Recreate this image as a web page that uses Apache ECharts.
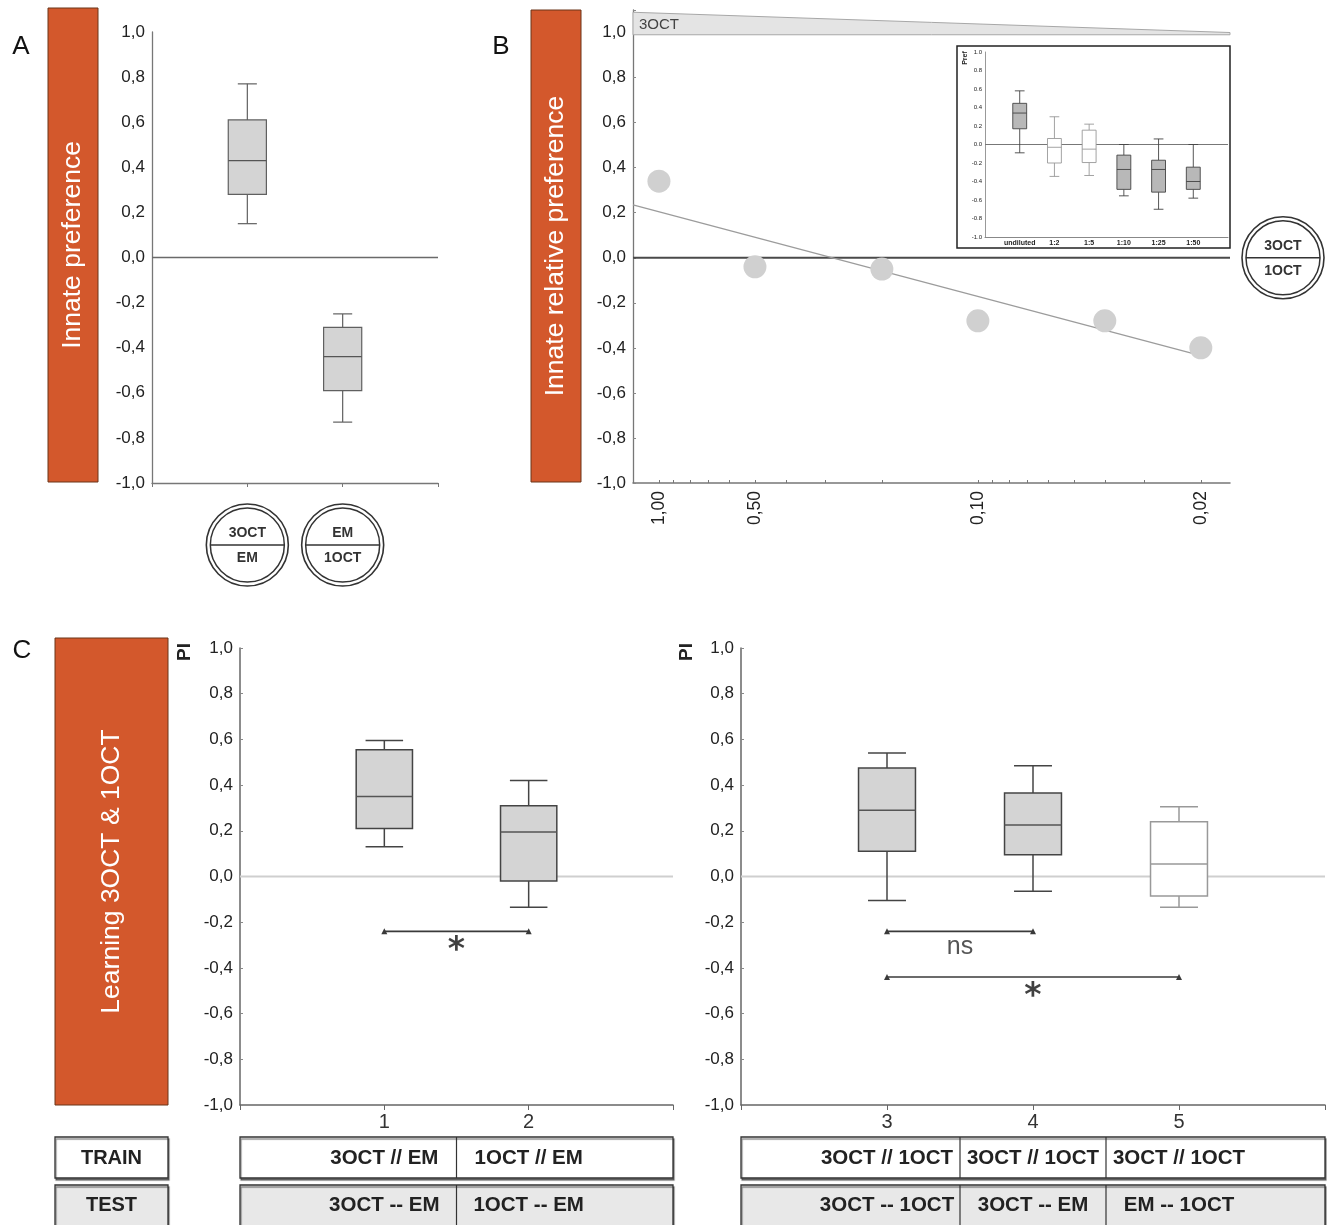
<!DOCTYPE html>
<html>
<head>
<meta charset="utf-8">
<script src="https://cdn.jsdelivr.net/npm/echarts@6/dist/echarts.min.js"></script>
<style>
html,body{margin:0;padding:0;background:#ffffff;}
#c{width:1327px;height:1225px;}
</style>
</head>
<body>
<div id="c"></div>
<script>
// ---------------- DATA ----------------
// Panel A: innate preference, boxes [low whisker, q1, median, q3, high whisker]
const aGroupX = [1, 2];
const aGroupTop = ['3OCT', 'EM'];
const aGroupBottom = ['EM', '1OCT'];
const aBoxes = [
  [0.15, 0.28, 0.43, 0.61, 0.77],
  [-0.73, -0.59, -0.44, -0.31, -0.25]
];
// Panel B: innate relative preference vs concentration (log axis)
const bConc = [1.00, 0.50, 0.20, 0.10, 0.04, 0.02];
const bPref = [0.34, -0.04, -0.05, -0.28, -0.28, -0.40];
const bTrend = [[1.206, 0.235], [0.02, -0.435]];
const bTickLabels = [1.00, 0.50, 0.10, 0.02];
const bTickMarks = [1, 0.9, 0.8, 0.7, 0.6, 0.5, 0.4, 0.3, 0.2, 0.1, 0.09, 0.08, 0.07, 0.06, 0.05, 0.04, 0.03, 0.02];
const bRange = [0.0162, 1.206];
// Inset of panel B
const insetCats = ['undiluted', '1:2', '1:5', '1:10', '1:25', '1:50'];
const insetX = [1, 2, 3, 4, 5, 6];
const insetBoxes = [
  [-0.09, 0.17, 0.34, 0.445, 0.58],
  [-0.345, -0.20, -0.03, 0.065, 0.30],
  [-0.335, -0.195, -0.05, 0.155, 0.22],
  [-0.555, -0.485, -0.27, -0.115, 0.0],
  [-0.70, -0.515, -0.27, -0.17, 0.06],
  [-0.58, -0.485, -0.40, -0.245, 0.0]
];
const insetOpen = [false, true, true, false, false, false];
// Panel C: learning
const cLeftX = [1, 2];
const cLeftBoxes = [
  [0.13, 0.21, 0.35, 0.555, 0.595],
  [-0.135, -0.02, 0.195, 0.31, 0.42]
];
const cRightX = [3, 4, 5];
const cRightBoxes = [
  [-0.105, 0.11, 0.29, 0.475, 0.54],
  [-0.065, 0.095, 0.225, 0.365, 0.485],
  [-0.135, -0.085, 0.055, 0.24, 0.305]
];
const cRightOpen = [false, false, true];
// significance brackets: [from, to, y, label]
const cLeftSig = [[1, 2, -0.24, '*']];
const cRightSig = [[3, 4, -0.24, 'ns'], [3, 5, -0.44, '*']];
// table labels
const trainLeft = ['3OCT // EM', '1OCT // EM'];
const testLeft = ['3OCT -- EM', '1OCT -- EM'];
const trainRight = ['3OCT // 1OCT', '3OCT // 1OCT', '3OCT // 1OCT'];
const testRight = ['3OCT -- 1OCT', '3OCT -- EM', 'EM -- 1OCT'];

// ---------------- HELPERS ----------------
const FONT = "'Liberation Sans', Arial, Helvetica, sans-serif";
function fmtComma(v) {
  if (Math.abs(v) < 1e-9) return '0,0';
  return v.toFixed(1).replace('.', ',');
}
function fmtDot(v) {
  if (Math.abs(v) < 1e-9) return '0.0';
  return v.toFixed(1);
}
function boxSeries(g, xs, boxes, o) {
  return {
    type: 'custom', xAxisIndex: g, yAxisIndex: g, z: 5, silent: true, animation: false,
    data: xs.map(function (x, i) { return [x].concat(boxes[i]); }),
    encode: { x: 0, y: [1, 2, 3, 4, 5] },
    renderItem: function (params, api) {
      const x = api.value(0);
      const p = [1, 2, 3, 4, 5].map(function (k) { return api.coord([x, api.value(k)]); });
      const cx = p[0][0];
      const w = api.size([o.width, 0])[0];
      const cw = api.size([o.cap, 0])[0];
      const open = o.open ? o.open[params.dataIndex] : false;
      const stroke = open ? o.openStroke : o.stroke;
      const fill = open ? '#ffffff' : o.fill;
      const lo = p[0][1], q1 = p[1][1], md = p[2][1], q3 = p[3][1], hi = p[4][1];
      const ls = { stroke: stroke, lineWidth: o.lw, fill: null };
      return {
        type: 'group', children: [
          { type: 'line', shape: { x1: cx, y1: hi, x2: cx, y2: q3 }, style: ls },
          { type: 'line', shape: { x1: cx, y1: q1, x2: cx, y2: lo }, style: ls },
          { type: 'line', shape: { x1: cx - cw / 2, y1: hi, x2: cx + cw / 2, y2: hi }, style: ls },
          { type: 'line', shape: { x1: cx - cw / 2, y1: lo, x2: cx + cw / 2, y2: lo }, style: ls },
          { type: 'rect', shape: { x: cx - w / 2, y: q3, width: w, height: q1 - q3 }, style: { fill: fill, stroke: stroke, lineWidth: o.lw } },
          { type: 'line', shape: { x1: cx - w / 2, y1: md, x2: cx + w / 2, y2: md }, style: { stroke: open ? o.openStroke : (o.medianStroke || stroke), lineWidth: o.mlw || o.lw } }
        ]
      };
    }
  };
}
function hLine(g, x0, x1, y, color, width, z) {
  return {
    type: 'line', xAxisIndex: g, yAxisIndex: g, z: z || 2, silent: true, animation: false,
    data: [[x0, y], [x1, y]], symbol: 'none',
    lineStyle: { color: color, width: width }
  };
}
function sigSeries(g, sigs) {
  const out = [];
  sigs.forEach(function (s) {
    const star = s[3] === '*';
    out.push({
      type: 'line', xAxisIndex: g, yAxisIndex: g, z: 6, silent: true, animation: false,
      data: [[s[0], s[2]], [s[1], s[2]]],
      symbol: 'triangle', symbolSize: [6, 6], showSymbol: true,
      lineStyle: { color: '#3a3a3a', width: 1.6 }, itemStyle: { color: '#3a3a3a' }
    });
    out.push({
      type: 'scatter', xAxisIndex: g, yAxisIndex: g, z: 6, silent: true, animation: false,
      data: [[(s[0] + s[1]) / 2, s[2], s[3]]],
      symbolSize: 1, itemStyle: { color: 'rgba(0,0,0,0)' },
      label: {
        show: true, position: 'inside',
        offset: star ? [0, 20] : [0, 16],
        formatter: function (p) { return p.value[2]; },
        fontFamily: star ? "'DejaVu Sans', sans-serif" : FONT,
        fontWeight: star ? 'bold' : 'normal',
        fontSize: star ? 33 : 25, color: star ? '#111' : '#2a2a2a'
      }
    });
  });
  return out;
}
function yAxisStd(g, o) {
  return Object.assign({
    gridIndex: g, type: 'value', min: -1, max: 1, interval: 0.2,
    axisLine: { show: true, onZero: false, lineStyle: { color: '#777', width: 1.3 } },
    axisTick: { show: true, inside: true, length: 3, lineStyle: { color: '#888' } },
    splitLine: { show: false },
    axisLabel: { formatter: fmtComma, fontFamily: FONT, fontSize: 17, color: '#222', margin: 7 }
  }, o || {});
}

// ---------------- CHART ----------------
const chart = echarts.init(document.getElementById('c'), null, { renderer: 'canvas' });

const grids = [
  { left: 152, top: 32, width: 286, height: 451, outerBoundsMode: 'none' },
  { left: 633, top: 10, width: 597, height: 473, outerBoundsMode: 'none' },
  { left: 985, top: 52, width: 243, height: 185, outerBoundsMode: 'none' },
  { left: 240, top: 648, width: 433, height: 457, outerBoundsMode: 'none' },
  { left: 741, top: 648, width: 584, height: 457, outerBoundsMode: 'none' }
];

const xAxes = [
  {
    gridIndex: 0, type: 'value', min: 0, max: 3, interval: 1,
    axisLine: { onZero: false, lineStyle: { color: '#777', width: 1.3 } },
    axisTick: { show: true, length: 4, lineStyle: { color: '#777' } },
    axisLabel: { show: false }, splitLine: { show: false }
  },
  {
    gridIndex: 1, type: 'log', logBase: 10, min: bRange[0], max: bRange[1], inverse: true,
    axisLine: { onZero: false, lineStyle: { color: '#777', width: 1.5 } },
    axisTick: { show: true, inside: true, length: 3, customValues: bTickMarks, lineStyle: { color: '#777' } },
    axisLabel: {
      show: true, customValues: bTickLabels, rotate: 90, margin: 8,
      formatter: function (v) { return Number(v).toFixed(2).replace('.', ','); },
      fontFamily: FONT, fontSize: 17.5, color: '#222'
    },
    splitLine: { show: false }, minorTick: { show: false }
  },
  {
    gridIndex: 2, type: 'value', min: 0, max: 7, interval: 1,
    axisLine: { onZero: false, lineStyle: { color: '#888', width: 1 } },
    axisTick: { show: false },
    axisLabel: {
      formatter: function (v) { return insetCats[insetX.indexOf(v)] || ''; },
      fontFamily: FONT, fontSize: 7, fontWeight: 'bold', color: '#222', margin: 3
    },
    splitLine: { show: false }
  },
  {
    gridIndex: 3, type: 'value', min: 0, max: 3, interval: 1,
    axisLine: { onZero: false, lineStyle: { color: '#666', width: 1.5 } },
    axisTick: { show: true, length: 5, lineStyle: { color: '#666' } },
    axisLabel: {
      formatter: function (v) { return cLeftX.indexOf(v) >= 0 ? String(v) : ''; },
      fontFamily: FONT, fontSize: 20, color: '#333', margin: 7
    },
    splitLine: { show: false }
  },
  {
    gridIndex: 4, type: 'value', min: 2, max: 6, interval: 1,
    axisLine: { onZero: false, lineStyle: { color: '#666', width: 1.5 } },
    axisTick: { show: true, length: 5, lineStyle: { color: '#666' } },
    axisLabel: {
      formatter: function (v) { return cRightX.indexOf(v) >= 0 ? String(v) : ''; },
      fontFamily: FONT, fontSize: 20, color: '#333', margin: 7
    },
    splitLine: { show: false }
  }
];

const yAxes = [
  yAxisStd(0, { axisTick: { show: false } }),
  yAxisStd(1, {
    max: 1.1,
    axisLabel: {
      formatter: function (v) { return v > 1.05 ? '' : fmtComma(v); },
      fontFamily: FONT, fontSize: 17, color: '#222', margin: 7
    }
  }),
  yAxisStd(2, {
    axisLine: { show: true, onZero: false, lineStyle: { color: '#999', width: 1 } },
    axisTick: { show: false },
    axisLabel: { formatter: fmtDot, fontFamily: FONT, fontSize: 6, color: '#222', margin: 3 }
  }),
  yAxisStd(3, { axisLine: { show: true, onZero: false, lineStyle: { color: '#666', width: 1.5 } } }),
  yAxisStd(4, { axisLine: { show: true, onZero: false, lineStyle: { color: '#666', width: 1.5 } } })
];

let series = [];
// Panel A
series.push(hLine(0, 0, 3, 0, '#6a6a6a', 1.3));
series.push(boxSeries(0, aGroupX, aBoxes, { width: 0.4, cap: 0.2, fill: '#d4d4d4', stroke: '#606060', lw: 1.2, medianStroke: '#555' }));
// Panel B
series.push(hLine(1, bRange[1], bRange[0], 0, '#4a4a4a', 2.2));
series.push({
  type: 'line', xAxisIndex: 1, yAxisIndex: 1, z: 3, silent: true, animation: false,
  data: bTrend, symbol: 'none', lineStyle: { color: '#9c9c9c', width: 1.3 }
});
series.push({
  type: 'scatter', xAxisIndex: 1, yAxisIndex: 1, z: 4, silent: true, animation: false,
  data: bConc.map(function (c, i) { return [c, bPref[i]]; }),
  symbolSize: 23, itemStyle: { color: '#d0d0d0', opacity: 1 }
});
// Inset
series.push(hLine(2, 0, 7, 0, '#777', 1));
series.push(boxSeries(2, insetX, insetBoxes, { width: 0.4, cap: 0.28, fill: '#b8b8b8', stroke: '#444', openStroke: '#999', open: insetOpen, lw: 0.9 }));
// Panel C left
series.push(hLine(3, 0, 3, 0, '#cfcfcf', 2.2, 1));
series.push(boxSeries(3, cLeftX, cLeftBoxes, { width: 0.39, cap: 0.26, fill: '#d4d4d4', stroke: '#444', lw: 1.5, medianStroke: '#555' }));
series = series.concat(sigSeries(3, cLeftSig));
// Panel C right
series.push(hLine(4, 2, 6, 0, '#cfcfcf', 2.2, 1));
series.push(boxSeries(4, cRightX, cRightBoxes, { width: 0.39, cap: 0.26, fill: '#d4d4d4', stroke: '#444', openStroke: '#999', open: cRightOpen, lw: 1.5, medianStroke: '#555' }));
series = series.concat(sigSeries(4, cRightSig));

chart.setOption({
  animation: false,
  backgroundColor: '#ffffff',
  grid: grids,
  xAxis: xAxes,
  yAxis: yAxes,
  series: series
});

// ---------------- DECORATIONS (positioned via the axes) ----------------
function px(g, v) { return chart.convertToPixel({ gridIndex: g }, v); }
const G = [];
function addText(x, y, s, size, opts) {
  opts = opts || {};
  G.push({
    type: 'text', x: x, y: y, rotation: opts.rot || 0, z: 20, silent: true,
    style: {
      text: s, fontFamily: FONT, fontSize: size, fontWeight: opts.bold ? 'bold' : 'normal',
      fill: opts.color || '#222', align: opts.align || 'center', verticalAlign: 'middle'
    }
  });
}
// Panel letters
addText(21, 47, 'A', 26, { color: '#111' });
addText(501, 47, 'B', 26, { color: '#111' });
addText(22, 651, 'C', 26, { color: '#111' });
// Orange bars
const ORANGE = '#d3582c';
[[48, 8, 50, 474, 'Innate preference'], [531, 10, 50, 472, 'Innate relative preference'], [55, 638, 113, 467, 'Learning 3OCT & 1OCT']].forEach(function (b) {
  G.push({ type: 'rect', shape: { x: b[0], y: b[1], width: b[2], height: b[3] }, z: 10, silent: true,
    style: { fill: ORANGE, stroke: '#6a3418', lineWidth: 1 } });
  addText(b[0] + b[2] / 2, b[1] + b[3] / 2 + 0, b[4], 26.5, { color: '#ffffff', rot: Math.PI / 2 });
});
// Odour discs
function disc(cx, cy, top, bottom) {
  G.push({ type: 'circle', shape: { cx: cx, cy: cy, r: 41 }, z: 10, silent: true, style: { fill: '#fff', stroke: '#333', lineWidth: 1.6 } });
  G.push({ type: 'circle', shape: { cx: cx, cy: cy, r: 37 }, z: 10, silent: true, style: { fill: 'none', stroke: '#333', lineWidth: 1.5 } });
  G.push({ type: 'line', shape: { x1: cx - 37, y1: cy, x2: cx + 37, y2: cy }, z: 10, silent: true, style: { stroke: '#333', lineWidth: 1.5 } });
  addText(cx, cy - 12, top, 14, { bold: true, color: '#333' });
  addText(cx, cy + 13, bottom, 14, { bold: true, color: '#333' });
}
aGroupX.forEach(function (x, i) {
  disc(px(0, [x, 0])[0], 545, aGroupTop[i], aGroupBottom[i]);
});
disc(1283, px(1, [1, 0])[1], '3OCT', '1OCT');
// Concentration wedge of panel B
(function () {
  const pL = px(1, [bRange[1], 1.09]);
  const pR = px(1, [bRange[0], 1.0]);
  const pB = px(1, [bRange[1], 0.99]);
  G.push({ type: 'polygon', z: 9, silent: true,
    shape: { points: [[pL[0], pL[1]], [pR[0], pR[1]], [pR[0], pB[1]], [pL[0], pB[1]]] },
    style: { fill: '#e4e4e4', stroke: '#a8a8a8', lineWidth: 1 } });
  addText(pL[0] + 6, (pL[1] + pB[1]) / 2 + 1, '3OCT', 15, { align: 'left', color: '#444' });
})();
// Inset frame and label
G.push({ type: 'rect', shape: { x: 957, y: 46, width: 273, height: 202 }, z: 9, silent: true, style: { fill: 'none', stroke: '#222', lineWidth: 1.5 } });
addText(965, 58, 'Pref', 7, { bold: true, rot: Math.PI / 2 });
// PI labels
addText(185, 652, 'PI', 19, { bold: true, rot: Math.PI / 2 });
addText(687, 652, 'PI', 19, { bold: true, rot: Math.PI / 2 });
// Tables
function row(x0, x1, y, h, fill) {
  G.push({ type: 'rect', shape: { x: x0, y: y, width: x1 - x0, height: h }, z: 10, silent: true,
    style: { fill: fill, stroke: '#333', lineWidth: 1.3, shadowColor: 'rgba(0,0,0,0.45)', shadowOffsetX: 1, shadowOffsetY: 2, shadowBlur: 1 } });
}
function tableRow(g, xs, xMin, xMax, labels, y, h, fill, ty) {
  const x0 = px(g, [xMin, 0])[0], x1 = px(g, [xMax, 0])[0];
  row(x0, x1, y, h, fill);
  for (let i = 0; i < xs.length - 1; i++) {
    const dx = px(g, [(xs[i] + xs[i + 1]) / 2, 0])[0];
    G.push({ type: 'line', shape: { x1: dx, y1: y, x2: dx, y2: y + h }, z: 11, silent: true, style: { stroke: '#333', lineWidth: 1.2 } });
  }
  xs.forEach(function (x, i) {
    addText(px(g, [x, 0])[0], ty, labels[i], 20.5, { bold: true, color: '#222' });
  });
}
const TRAIN_Y = 1137, TRAIN_H = 41, TEST_Y = 1185, TEST_H = 48;
const TRAIN_TY = 1158, TEST_TY = 1205;
row(55, 168, TRAIN_Y, TRAIN_H, '#ffffff');
addText(111.5, TRAIN_TY, 'TRAIN', 20, { bold: true });
row(55, 168, TEST_Y, TEST_H, '#e8e8e8');
addText(111.5, TEST_TY, 'TEST', 20, { bold: true });
tableRow(3, cLeftX, 0, 3, trainLeft, TRAIN_Y, TRAIN_H, '#ffffff', TRAIN_TY);
tableRow(3, cLeftX, 0, 3, testLeft, TEST_Y, TEST_H, '#e8e8e8', TEST_TY);
tableRow(4, cRightX, 2, 6, trainRight, TRAIN_Y, TRAIN_H, '#ffffff', TRAIN_TY);
tableRow(4, cRightX, 2, 6, testRight, TEST_Y, TEST_H, '#e8e8e8', TEST_TY);

chart.setOption({ graphic: { elements: G } });
</script>
</body>
</html>
